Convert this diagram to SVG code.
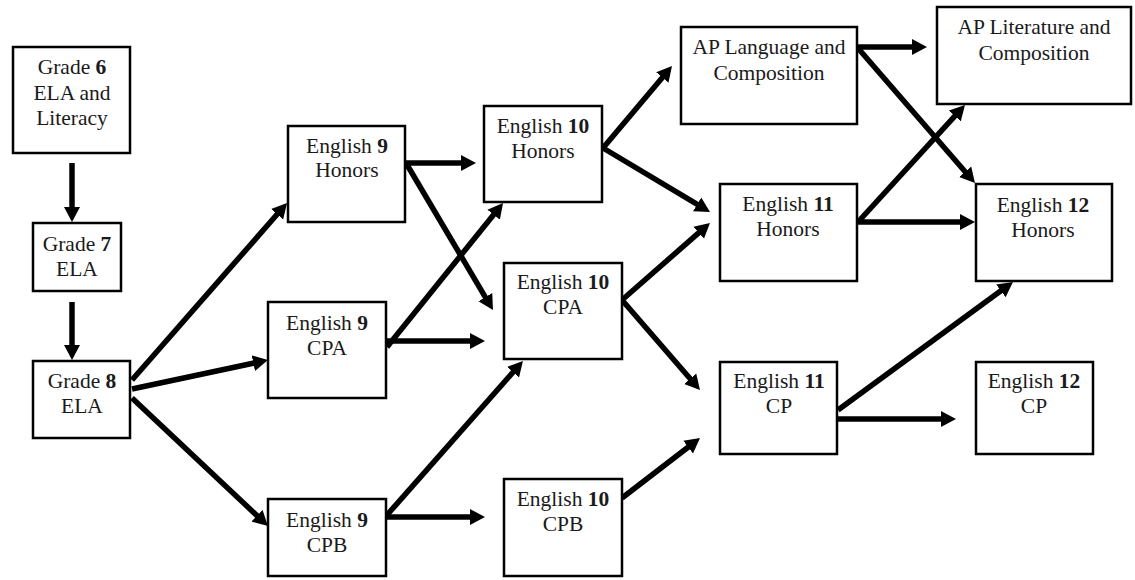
<svg xmlns="http://www.w3.org/2000/svg" width="1135" height="580" viewBox="0 0 1135 580">
<style>
.box{fill:#fff;stroke:#000;stroke-width:2.5}
text{font-family:'Liberation Serif','Times New Roman','DejaVu Serif',serif;font-size:21.5px;fill:#1a1a1a;text-anchor:middle}
.b{font-weight:bold}
.c{stroke:#000;stroke-width:5.5;fill:none;marker-end:url(#ah)}
</style>
<defs>
<marker id="ah" markerUnits="userSpaceOnUse" markerWidth="15" markerHeight="17" viewBox="0 0 15 17" refX="6" refY="8.5" orient="auto">
<path d="M0,0.5 L15,8.5 L0,16.5 z" fill="#000"/>
</marker>
</defs>
<rect width="1135" height="580" fill="#fff"/>
<g id="connectors">
<line class="c" x1="72" y1="163" x2="72" y2="213"/>
<line class="c" x1="72" y1="302" x2="72" y2="351"/>
<line class="c" x1="132" y1="380" x2="281.1" y2="209.8"/>
<line class="c" x1="132" y1="389" x2="259.2" y2="361.9"/>
<line class="c" x1="132" y1="398" x2="261.4" y2="519.8"/>
<line class="c" x1="406" y1="163" x2="467" y2="163"/>
<line class="c" x1="406" y1="163" x2="488.4" y2="302.3"/>
<line class="c" x1="387" y1="347" x2="497.4" y2="210"/>
<line class="c" x1="387" y1="341" x2="476" y2="341"/>
<line class="c" x1="387" y1="515" x2="517" y2="367.7"/>
<line class="c" x1="387" y1="517" x2="476" y2="517"/>
<line class="c" x1="603" y1="148" x2="666.2" y2="72.9"/>
<line class="c" x1="603" y1="148" x2="702.3" y2="207.4"/>
<line class="c" x1="622" y1="300" x2="703.2" y2="228.9"/>
<line class="c" x1="622" y1="300" x2="694.1" y2="383.2"/>
<line class="c" x1="622" y1="498" x2="692.9" y2="443.5"/>
<line class="c" x1="857" y1="47" x2="918" y2="47"/>
<line class="c" x1="857" y1="47" x2="969.1" y2="176.2"/>
<line class="c" x1="858" y1="222" x2="958.9" y2="111.6"/>
<line class="c" x1="858" y1="222" x2="966" y2="222"/>
<line class="c" x1="838" y1="410" x2="1005.7" y2="287.3"/>
<line class="c" x1="838" y1="419" x2="947" y2="419"/>
</g>
<g font-family="Liberation Serif, Times New Roman, serif">
<g id="grade6">
<rect class="box" x="13" y="47" width="117" height="106"/>
<text x="72" y="74">Grade <tspan class="b">6</tspan></text>
<text x="72" y="100">ELA and</text>
<text x="72" y="125">Literacy</text>
</g>
<g id="grade7">
<rect class="box" x="33" y="223" width="88" height="68"/>
<text x="77" y="251">Grade <tspan class="b">7</tspan></text>
<text x="77" y="276">ELA</text>
</g>
<g id="grade8">
<rect class="box" x="33" y="361" width="97" height="77"/>
<text x="82" y="388">Grade <tspan class="b">8</tspan></text>
<text x="82" y="413">ELA</text>
</g>
<g id="eng9h">
<rect class="box" x="288" y="126" width="117" height="96"/>
<text x="347" y="153">English <tspan class="b">9</tspan></text>
<text x="347" y="177">Honors</text>
</g>
<g id="eng9cpa">
<rect class="box" x="268" y="302" width="118" height="96"/>
<text x="327" y="330">English <tspan class="b">9</tspan></text>
<text x="327" y="355">CPA</text>
</g>
<g id="eng9cpb">
<rect class="box" x="268" y="499" width="118" height="77"/>
<text x="327" y="527">English <tspan class="b">9</tspan></text>
<text x="327" y="552">CPB</text>
</g>
<g id="eng10h">
<rect class="box" x="484" y="106" width="118" height="96"/>
<text x="543" y="133">English <tspan class="b">10</tspan></text>
<text x="543" y="158">Honors</text>
</g>
<g id="eng10cpa">
<rect class="box" x="504" y="263" width="118" height="96"/>
<text x="563" y="289">English <tspan class="b">10</tspan></text>
<text x="563" y="314">CPA</text>
</g>
<g id="eng10cpb">
<rect class="box" x="504" y="479" width="118" height="97"/>
<text x="563" y="506">English <tspan class="b">10</tspan></text>
<text x="563" y="531">CPB</text>
</g>
<g id="aplang">
<rect class="box" x="681" y="27" width="176" height="97"/>
<text x="769" y="54">AP Language and</text>
<text x="769" y="80">Composition</text>
</g>
<g id="aplit">
<rect class="box" x="937" y="7" width="194" height="97"/>
<text x="1034" y="34">AP Literature and</text>
<text x="1034" y="60">Composition</text>
</g>
<g id="eng11h">
<rect class="box" x="720" y="184" width="137" height="97"/>
<text x="788" y="211">English <tspan class="b">11</tspan></text>
<text x="788" y="236">Honors</text>
</g>
<g id="eng12h">
<rect class="box" x="976" y="184" width="136" height="97"/>
<text x="1043" y="212">English <tspan class="b">12</tspan></text>
<text x="1043" y="237">Honors</text>
</g>
<g id="eng11cp">
<rect class="box" x="720" y="362" width="117" height="92"/>
<text x="779" y="388">English <tspan class="b">11</tspan></text>
<text x="779" y="413">CP</text>
</g>
<g id="eng12cp">
<rect class="box" x="976" y="362" width="117" height="92"/>
<text x="1034" y="388">English <tspan class="b">12</tspan></text>
<text x="1034" y="413">CP</text>
</g>
</g>
</svg>
